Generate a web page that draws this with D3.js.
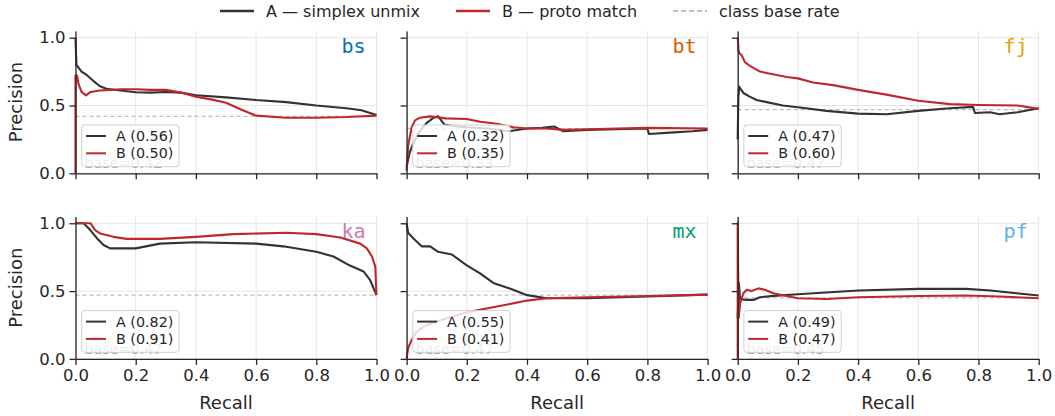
<!DOCTYPE html>
<html>
<head>
<meta charset="utf-8">
<script src="https://cdn.jsdelivr.net/npm/d3@7/dist/d3.min.js"></script>
<style>
  body { margin: 0; background: #fff; }
  svg { display: block; font-family: "DejaVu Sans", sans-serif; }
</style>
</head>
<body>
<div id="app"></div>
<script>
const WIDTH = 1055;
const HEIGHT = 416;

// categories and summary numbers
const classes = ['bs', 'bt', 'fj', 'ka', 'mx', 'pf'];
const baseRates = [0.42, 0.33, 0.47, 0.47, 0.47, 0.45];
const apA = [0.56, 0.32, 0.47, 0.82, 0.55, 0.49];
const apB = [0.50, 0.35, 0.60, 0.91, 0.41, 0.47];
const xTicks = [0, 0.2, 0.4, 0.6, 0.8, 1.0];
const yTicks = [0, 0.5, 1.0];
const seriesNames = ['A — simplex unmix', 'B — proto match'];

// precision-recall curves, [recall, precision]
const bsA = [[0,1.0],[0.003,0.8],[0.01,0.78],[0.02,0.75],[0.037,0.725],[0.06,0.68],[0.08,0.644],[0.1,0.625],[0.115,0.62],[0.15,0.61],[0.2,0.598],[0.25,0.595],[0.3,0.6],[0.35,0.595],[0.4,0.575],[0.5,0.56],[0.6,0.54],[0.7,0.525],[0.8,0.50],[0.9,0.48],[0.95,0.465],[1.0,0.43]];
const bsB = [[0,0],[0,0.72],[0.005,0.72],[0.01,0.66],[0.02,0.6],[0.035,0.575],[0.05,0.6],[0.08,0.61],[0.12,0.615],[0.15,0.62],[0.2,0.62],[0.25,0.615],[0.3,0.615],[0.35,0.595],[0.4,0.565],[0.45,0.545],[0.5,0.52],[0.55,0.47],[0.6,0.425],[0.7,0.41],[0.8,0.41],[0.9,0.415],[1.0,0.425]];
const btA = [[0,0.05],[0.01,0.15],[0.022,0.22],[0.044,0.31],[0.066,0.37],[0.09,0.41],[0.105,0.42],[0.115,0.39],[0.125,0.36],[0.15,0.35],[0.2,0.34],[0.27,0.33],[0.34,0.31],[0.4,0.33],[0.45,0.335],[0.49,0.345],[0.52,0.31],[0.6,0.32],[0.7,0.325],[0.8,0.33],[0.805,0.29],[0.875,0.30],[0.95,0.31],[1.0,0.32]];
const btB = [[0,0.02],[0.005,0.2],[0.009,0.25],[0.017,0.34],[0.028,0.39],[0.044,0.41],[0.078,0.42],[0.13,0.405],[0.2,0.40],[0.245,0.38],[0.3,0.365],[0.355,0.34],[0.4,0.33],[0.465,0.33],[0.52,0.32],[0.6,0.325],[0.8,0.335],[1.0,0.33]];
const fjA = [[0,0.25],[0.002,0.55],[0.005,0.64],[0.01,0.62],[0.02,0.59],[0.04,0.565],[0.063,0.54],[0.096,0.525],[0.15,0.5],[0.2,0.487],[0.295,0.46],[0.4,0.44],[0.495,0.435],[0.6,0.46],[0.705,0.48],[0.782,0.49],[0.788,0.445],[0.838,0.45],[0.87,0.435],[0.93,0.45],[1.0,0.48]];
const fjB = [[0,1.0],[0.003,0.9],[0.006,0.885],[0.013,0.87],[0.024,0.82],[0.035,0.80],[0.074,0.75],[0.096,0.74],[0.163,0.71],[0.2,0.70],[0.25,0.67],[0.317,0.65],[0.4,0.615],[0.494,0.58],[0.6,0.535],[0.705,0.51],[0.8,0.504],[0.93,0.50],[1.0,0.475]];
const kaA = [[0,1.0],[0.027,1.0],[0.049,0.95],[0.071,0.89],[0.093,0.84],[0.115,0.815],[0.2,0.815],[0.28,0.85],[0.4,0.86],[0.6,0.85],[0.69,0.83],[0.8,0.79],[0.857,0.755],[0.91,0.69],[0.957,0.645],[0.979,0.58],[1.0,0.47]];
const kaB = [[0,1.0],[0.05,1.0],[0.065,0.95],[0.082,0.925],[0.126,0.90],[0.17,0.885],[0.28,0.885],[0.4,0.90],[0.525,0.92],[0.70,0.93],[0.8,0.92],[0.88,0.895],[0.946,0.85],[0.968,0.815],[0.985,0.755],[0.996,0.68],[1.0,0.47]];
const mxA = [[0,1.0],[0.005,0.93],[0.022,0.89],[0.05,0.83],[0.078,0.83],[0.105,0.79],[0.15,0.77],[0.2,0.69],[0.244,0.63],[0.288,0.56],[0.354,0.51],[0.4,0.47],[0.465,0.447],[0.6,0.447],[0.8,0.46],[1.0,0.474]];
const mxB = [[0,0],[0.005,0.08],[0.017,0.14],[0.033,0.2],[0.066,0.25],[0.133,0.30],[0.2,0.344],[0.3,0.386],[0.4,0.43],[0.465,0.447],[0.6,0.455],[0.8,0.464],[1.0,0.474]];
const pfA = [[0,0.3],[0.004,0.56],[0.008,0.44],[0.03,0.435],[0.052,0.435],[0.074,0.455],[0.12,0.465],[0.2,0.477],[0.4,0.504],[0.6,0.516],[0.76,0.516],[0.84,0.504],[0.926,0.484],[1.0,0.467]];
const pfB = [[0,0],[0,1.0],[0.003,0.3],[0.008,0.41],[0.019,0.484],[0.03,0.51],[0.046,0.50],[0.069,0.52],[0.09,0.51],[0.118,0.484],[0.162,0.464],[0.2,0.447],[0.295,0.442],[0.4,0.455],[0.6,0.464],[0.76,0.467],[0.87,0.46],[1.0,0.447]];

const curvesA = [bsA, btA, fjA, kaA, mxA, pfA];
const curvesB = [bsB, btB, fjB, kaB, mxB, pfB];

// styles
const labelColors = { bs: '#0072B2', bt: '#D55E00', fj: '#E69F00', ka: '#CC79A7', mx: '#009E73', pf: '#56B4E9' };
const lineColors = ['#333333', '#c0272d'];
const INK = '#262626';

const COL0 = 75.5, COL_STEP = 331.1, PW = 301;
const ROW0 = 30.9, ROW_STEP = 185.6, PH = 142.4;

const svg = d3.select('#app').append('svg')
  .attr('width', WIDTH)
  .attr('height', HEIGHT);

const x = d3.scaleLinear().domain([0, 1]).range([0, PW]);
const y = d3.scaleLinear().domain([0, 1.05]).range([PH, 0]);
const line = d3.line().x(d => x(d[0])).y(d => y(d[1]));

classes.forEach((cls, i) => {
  const col = i % 3, row = Math.floor(i / 3);
  const g = svg.append('g')
    .attr('transform', `translate(${COL0 + col * COL_STEP}, ${ROW0 + row * ROW_STEP})`);

  // grid
  g.selectAll('.vgrid').data(xTicks).enter().append('line')
    .attr('x1', d => x(d)).attr('x2', d => x(d))
    .attr('y1', 0).attr('y2', PH)
    .attr('stroke', '#e6e6e6').attr('stroke-width', 1);
  g.selectAll('.hgrid').data(yTicks).enter().append('line')
    .attr('x1', 0).attr('x2', PW)
    .attr('y1', d => y(d)).attr('y2', d => y(d))
    .attr('stroke', '#e6e6e6').attr('stroke-width', 1);

  // base rate
  g.append('line')
    .attr('x1', 0).attr('x2', PW)
    .attr('y1', y(baseRates[i])).attr('y2', y(baseRates[i]))
    .attr('stroke', '#bdbdbd').attr('stroke-width', 1.2)
    .attr('stroke-dasharray', '4,3');

  // curves
  [curvesA[i], curvesB[i]].forEach((c, k) => {
    g.append('path')
      .attr('d', line(c))
      .attr('fill', 'none')
      .attr('stroke', lineColors[k])
      .attr('stroke-width', 2.1)
      .attr('stroke-linejoin', 'round');
  });

  // faint base text behind legend
  g.append('text')
    .attr('x', 9).attr('y', PH - 5)
    .attr('font-size', 14.3)
    .attr('fill', '#a0a0a0')
    .text(`base=${baseRates[i].toFixed(2)}`);

  // legend
  const lg = g.append('g').attr('transform', `translate(6.2, ${PH - 6.6 - 41.7})`);
  lg.append('rect')
    .attr('width', 97.3).attr('height', 41.7)
    .attr('rx', 3)
    .attr('fill', 'rgba(255,255,255,0.8)')
    .attr('stroke', '#d0d0d0').attr('stroke-width', 1);
  [apA[i], apB[i]].forEach((v, k) => {
    const ly = 11 + k * 17.3;
    lg.append('line')
      .attr('x1', 4.3).attr('x2', 24.3)
      .attr('y1', ly).attr('y2', ly)
      .attr('stroke', lineColors[k]).attr('stroke-width', 2);
    lg.append('text')
      .attr('x', 34.3).attr('y', ly + 5)
      .attr('font-size', 14.3)
      .attr('fill', INK)
      .text(`${k === 0 ? 'A' : 'B'} (${v.toFixed(2)})`);
  });

  // class label
  g.append('text')
    .attr('x', PW - 11).attr('y', 21.8)
    .attr('text-anchor', 'end')
    .attr('font-family', '"DejaVu Sans Mono", monospace')
    .attr('font-size', 20)
    .attr('fill', labelColors[cls])
    .text(cls);

  // axes
  const xAxis = d3.axisBottom(x).tickValues(xTicks).tickSize(6).tickSizeOuter(0)
    .tickPadding(4).tickFormat(row === 1 ? d3.format('.1f') : () => '');
  const yAxis = d3.axisLeft(y).tickValues(yTicks).tickSize(6).tickSizeOuter(0)
    .tickPadding(4).tickFormat(col === 0 ? d3.format('.1f') : () => '');

  const gx = g.append('g').attr('transform', `translate(0, ${PH})`).call(xAxis);
  const gy = g.append('g').call(yAxis);
  [gx, gy].forEach(a => {
    a.select('.domain').attr('stroke', INK).attr('stroke-width', 1.3);
    a.selectAll('.tick line').attr('stroke', INK).attr('stroke-width', 1.3);
    a.selectAll('.tick text').attr('fill', INK)
      .attr('font-size', 16.5).attr('font-family', '"DejaVu Sans", sans-serif');
  });

  if (col === 0) {
    g.append('text')
      .attr('transform', `translate(-53.5, ${PH / 2}) rotate(-90)`)
      .attr('text-anchor', 'middle')
      .attr('font-size', 18)
      .attr('fill', INK)
      .text('Precision');
  }
  if (row === 1) {
    g.append('text')
      .attr('x', PW / 2).attr('y', PH + 50)
      .attr('text-anchor', 'middle')
      .attr('font-size', 18)
      .attr('fill', INK)
      .text('Recall');
  }
});

// top legend
const legendItems = [
  { label: seriesNames[0], color: lineColors[0], dash: null, x: 220 },
  { label: seriesNames[1], color: lineColors[1], dash: null, x: 456 },
  { label: 'class base rate', color: '#aaaaaa', dash: '5,3', x: 673 }
];
const topLegend = svg.append('g');
legendItems.forEach(it => {
  topLegend.append('line')
    .attr('x1', it.x).attr('x2', it.x + 34)
    .attr('y1', 11).attr('y2', 11)
    .attr('stroke', it.color)
    .attr('stroke-width', it.dash ? 1.5 : 2.4)
    .attr('stroke-dasharray', it.dash);
  topLegend.append('text')
    .attr('x', it.x + 46).attr('y', 17)
    .attr('font-size', 16)
    .attr('fill', INK)
    .text(it.label);
});
</script>
</body>
</html>
